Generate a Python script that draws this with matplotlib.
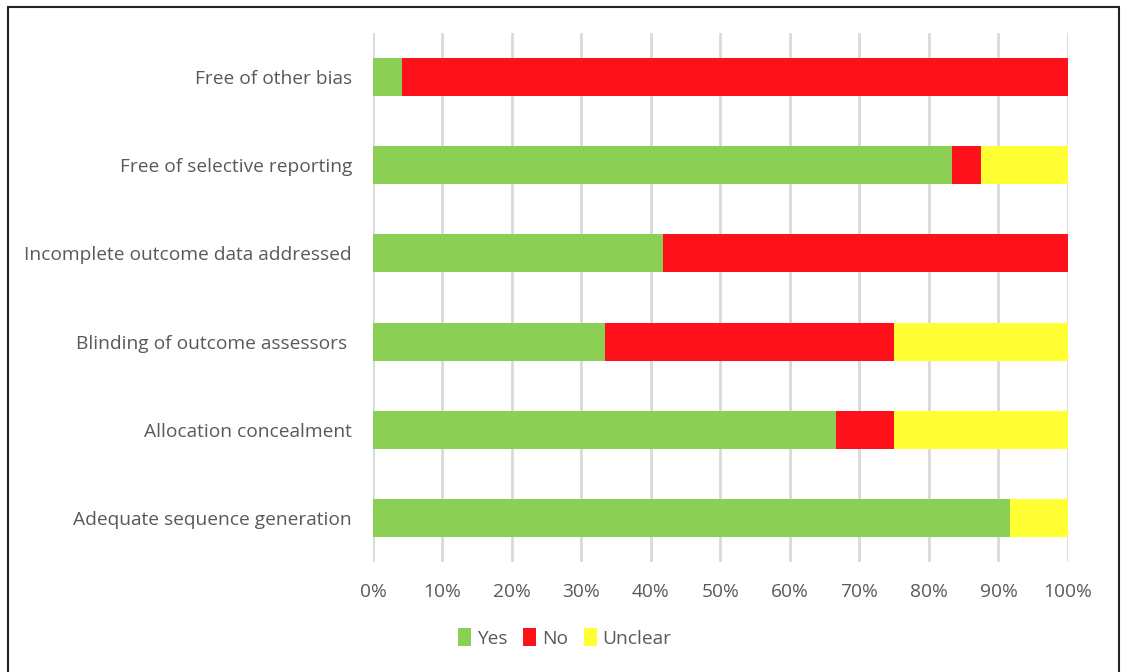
import matplotlib
matplotlib.use('Agg')
import matplotlib.pyplot as plt
import matplotlib.patches as patches
import numpy as np

# domains, bottom to top
domains = ['Adequate sequence generation', 'Allocation concealment',
           'Blinding of outcome assessors ', 'Incomplete outcome data addressed',
           'Free of selective reporting', 'Free of other bias']
# share of studies (out of 24)
yes = [22/24, 16/24, 8/24, 10/24, 20/24, 1/24]
no = [0, 2/24, 10/24, 14/24, 1/24, 23/24]
unclear = [2/24, 6/24, 6/24, 0, 3/24, 0]

plt.rcParams['font.family'] = ['Open Sans', 'DejaVu Sans']

fig = plt.figure(figsize=(11.23, 6.72), dpi=100)
ax = fig.add_axes([0.3321, 0.1637, 0.6189, 0.7873])

y = np.arange(len(domains))
h = 0.43
ax.barh(y, yes, h, color='#8bcf55', label='Yes', zorder=3)
ax.barh(y, no, h, left=yes, color='#ff111b', label='No', zorder=3)
ax.barh(y, unclear, h, left=np.add(yes, no), color='#ffff33', label='Unclear', zorder=3)

ax.set_xlim(0, 1)
ax.set_ylim(-0.5, len(domains) - 0.5)
ax.set_xticks(np.arange(0, 1.01, 0.1))
ax.set_xticklabels([f'{int(round(v*100))}%' for v in np.arange(0, 1.01, 0.1)])
ax.set_yticks(y)
ax.set_yticklabels(domains)
ax.grid(axis='x', color='#d9d9d9', linewidth=2, zorder=0)
for s in ax.spines.values():
    s.set_visible(False)
ax.tick_params(axis='both', length=0, labelsize=13.8, labelcolor='#595959')
ax.tick_params(axis='x', pad=15)
ax.tick_params(axis='y', pad=15)

fig.legend(*ax.get_legend_handles_labels(), loc='center',
           bbox_to_anchor=(0.503, 1 - 638/672), ncol=3, frameon=False,
           fontsize=13.8, labelcolor='#595959', handlelength=0.7, handleheight=1.0,
           handletextpad=0.3, columnspacing=0.8)

# outer frame
fig.patches.append(patches.Rectangle((8/1123, -0.05), 1111/1123, 1.05 - 7/672,
                                     transform=fig.transFigure, fill=False,
                                     edgecolor='#222222', linewidth=1.5))

fig.savefig('out.png', dpi=100)
